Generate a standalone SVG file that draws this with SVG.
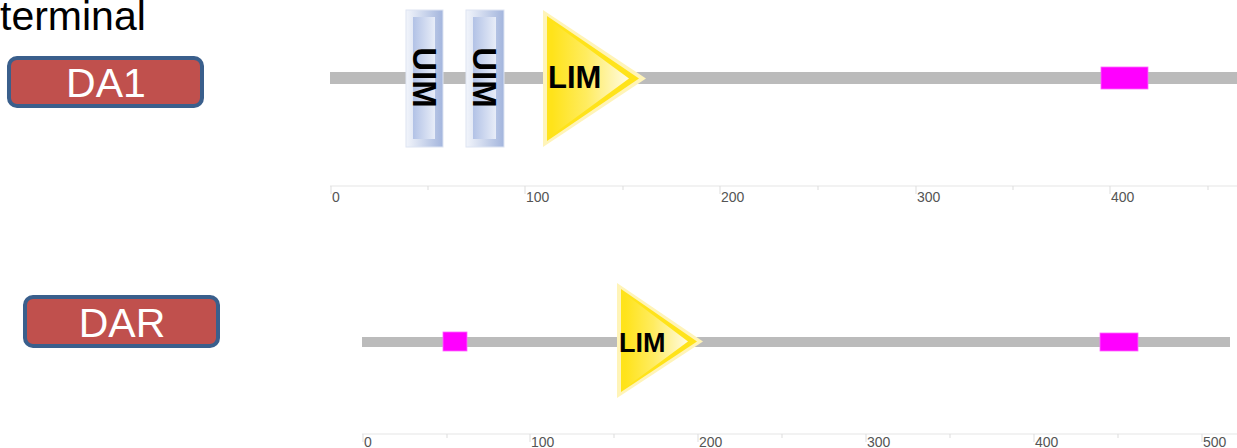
<svg xmlns="http://www.w3.org/2000/svg" width="1237" height="448" viewBox="0 0 1237 448">
<style>
.lbl{fill:#c0504d;stroke:#3a5f8c;stroke-width:4}
.lbltxt{font-family:"Liberation Sans",Arial,sans-serif;font-size:41px;fill:#ffffff;text-anchor:middle}
.track{fill:#bbbbbb}
.motif{fill:#ff00ff;stroke:#ff66ff;stroke-width:0.8}
.dom{font-family:"Liberation Sans",Arial,sans-serif;font-weight:bold;fill:#000000}
.axis{stroke:#eeeeee;stroke-width:1.5}
.tick{stroke:#dddddd;stroke-width:1}
.ticklbl{font-family:"Liberation Sans",Arial,sans-serif;font-size:14px;fill:#555555}
.uimo{fill:url(#uimOuter);stroke:#dde4f2;stroke-width:1}
.uimi{fill:url(#uimInner)}
.limo{fill:#fff4b8}
.limm{fill:#ffe31a}
.limi{fill:url(#limGrad)}
</style>
<defs>
<linearGradient id="uimOuter" x1="0" y1="0" x2="1" y2="0">
<stop offset="0" stop-color="#f2f5fb"/>
<stop offset="1" stop-color="#a3b5dd"/>
</linearGradient>
<linearGradient id="uimInner" x1="0" y1="0" x2="1" y2="0">
<stop offset="0" stop-color="#b2c2e6"/>
<stop offset="1" stop-color="#e8edf8"/>
</linearGradient>
<linearGradient id="limGrad" x1="0" y1="0" x2="1" y2="0">
<stop offset="0" stop-color="#ffe31a"/>
<stop offset="0.45" stop-color="#ffec60"/>
<stop offset="1" stop-color="#fffbe4"/>
</linearGradient>
</defs>

<text x="0" y="30" font-family="Liberation Sans, Arial, sans-serif" font-size="41" fill="#000000">terminal</text>

<g id="label-DA1">
<rect class="lbl" x="9" y="58" width="193" height="48" rx="8"/>
<text class="lbltxt" x="106" y="97">DA1</text>
</g>

<g id="label-DAR">
<rect class="lbl" x="25" y="297" width="193" height="49" rx="8"/>
<text class="lbltxt" x="122" y="337">DAR</text>
</g>

<g id="protein-DA1">
<rect class="track" x="330" y="72" width="907" height="12"/>
<g id="DA1-UIM1">
<rect class="uimo" x="406" y="10" width="37" height="137"/>
<rect class="uimi" x="413" y="17" width="22" height="122"/>
<text class="dom" font-size="33" text-anchor="middle" transform="translate(413,77.5) rotate(90)">UIM</text>
</g>
<g id="DA1-UIM2">
<rect class="uimo" x="466" y="10" width="38" height="137"/>
<rect class="uimi" x="473" y="17" width="23" height="122"/>
<text class="dom" font-size="33" text-anchor="middle" transform="translate(473,77.5) rotate(90)">UIM</text>
</g>
<g id="DA1-LIM">
<polygon class="limo" points="543,10 543,147 646,78.5"/>
<polygon class="limm" points="547,16 547,141 639,78.5"/>
<polygon class="limi" points="552,22 552,135 629,78.5"/>
<text class="dom" font-size="31" x="548" y="88">LIM</text>
</g>
<rect id="DA1-motif" class="motif" x="1101" y="67" width="47" height="22"/>
</g>

<g id="axis-DA1">
<line class="axis" x1="330" y1="186" x2="1237" y2="186"/>
<g class="tick">
<line x1="331" y1="186" x2="331" y2="194"/>
<line x1="428" y1="186" x2="428" y2="190"/>
<line x1="525" y1="186" x2="525" y2="194"/>
<line x1="623" y1="186" x2="623" y2="190"/>
<line x1="720" y1="186" x2="720" y2="194"/>
<line x1="818" y1="186" x2="818" y2="190"/>
<line x1="916" y1="186" x2="916" y2="194"/>
<line x1="1013" y1="186" x2="1013" y2="190"/>
<line x1="1110" y1="186" x2="1110" y2="194"/>
<line x1="1208" y1="186" x2="1208" y2="190"/>
</g>
<text class="ticklbl" x="332" y="202">0</text>
<text class="ticklbl" x="526" y="202">100</text>
<text class="ticklbl" x="721" y="202">200</text>
<text class="ticklbl" x="917" y="202">300</text>
<text class="ticklbl" x="1111" y="202">400</text>
</g>

<g id="protein-DAR">
<rect class="track" x="362" y="337" width="868" height="10"/>
<rect id="DAR-motif1" class="motif" x="443" y="332" width="24" height="19"/>
<g id="DAR-LIM">
<polygon class="limo" points="617,283 617,398 703,341.5"/>
<polygon class="limm" points="621,289 621,392 697,341.5"/>
<polygon class="limi" points="625,294 625,388 688,341.5"/>
<text class="dom" font-size="27" x="619" y="352">LIM</text>
</g>
<rect id="DAR-motif2" class="motif" x="1100" y="333" width="38" height="18"/>
</g>

<g id="axis-DAR">
<line class="axis" x1="362" y1="434" x2="1237" y2="434"/>
<g class="tick">
<line x1="363" y1="434" x2="363" y2="442"/>
<line x1="447" y1="434" x2="447" y2="438"/>
<line x1="530" y1="434" x2="530" y2="442"/>
<line x1="614" y1="434" x2="614" y2="438"/>
<line x1="698" y1="434" x2="698" y2="442"/>
<line x1="782" y1="434" x2="782" y2="438"/>
<line x1="866" y1="434" x2="866" y2="442"/>
<line x1="950" y1="434" x2="950" y2="438"/>
<line x1="1034" y1="434" x2="1034" y2="442"/>
<line x1="1118" y1="434" x2="1118" y2="438"/>
<line x1="1202" y1="434" x2="1202" y2="442"/>
</g>
<text class="ticklbl" x="364" y="447">0</text>
<text class="ticklbl" x="531" y="447">100</text>
<text class="ticklbl" x="699" y="447">200</text>
<text class="ticklbl" x="867" y="447">300</text>
<text class="ticklbl" x="1035" y="447">400</text>
<text class="ticklbl" x="1203" y="447">500</text>
</g>
</svg>
